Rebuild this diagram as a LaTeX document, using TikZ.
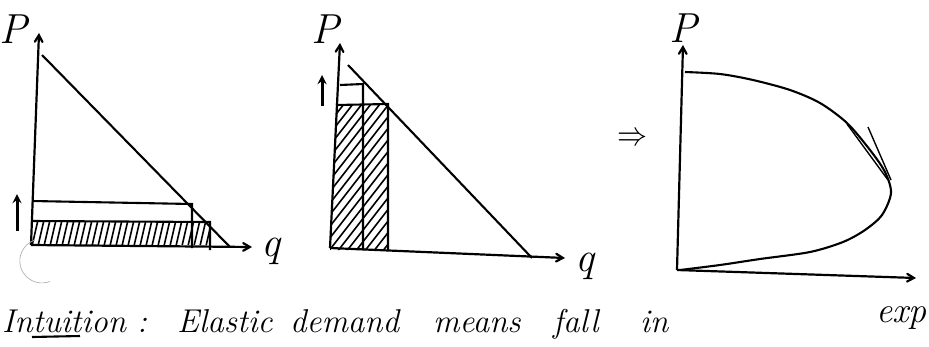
\documentclass[tikz,border=0pt]{standalone}
\usepackage{fontspec}
\usepackage{tikz}
\usetikzlibrary{arrows,positioning}

\begin{document}
\begin{tikzpicture}[x=1pt, y=-1pt, >=angle 60,
    axis/.style={line width=2.2pt, ->},
    sketch/.style={line width=2.1pt},
    hatch/.style={line width=1.6pt},
    lbl/.style={font=\fontsize{42}{42}\selectfont\itshape, inner sep=0pt},
    txt/.style={font=\fontsize{33}{33}\selectfont\itshape, inner sep=0pt}]
    \useasboundingbox (0,0) rectangle (929,346);

    % first panel
    \coordinate (o1) at (31,245);
    \coordinate (y1) at (39,33);
    \coordinate (x1) at (252,247);
    \draw[axis] (o1) -- (y1);
    \draw[axis] (o1) -- (x1);
    \draw[sketch] (42,55) -- (230,247);
    \begin{scope}
        \clip (32,222) rectangle (210,244);
        \foreach \x in {20,26,...,214}
            \draw[hatch] (\x,246) -- ++(6,-26);
    \end{scope}
    \draw[sketch] (32,201) -- (192,204) -- (192,248);
    \draw[sketch] (32,221) -- (210,222) -- (210,250);
    \draw[line width=3pt, -stealth] (17,231) -- (17,194);
    \draw[gray!60, line width=0.7pt] (35,240) arc[start angle=252, end angle=69, radius=22];
    \node[lbl, anchor=base] (p1) at (13,43) {P};
    \node[lbl, anchor=base] (q1) at (271,256) {q};

    % second panel
    \coordinate (o2) at (330,248);
    \coordinate (y2) at (340,43);
    \coordinate (x2) at (565,258);
    \draw[axis] (o2) -- (y2);
    \draw[axis] (o2) -- (x2);
    \draw[sketch] (348,65) -- (532,258);
    \begin{scope}
        \clip (337,105) -- (388,105) -- (388,250) -- (330,250) -- cycle;
        \foreach \x in {220,229,...,392}
            \draw[hatch] (\x,252) -- ++(115,-148);
    \end{scope}
    \draw[sketch] (340,85) -- (363,84) -- (363,250);
    \draw[sketch] (336,105) -- (388,104) -- (388,251);
    \draw[line width=3pt, -stealth] (322,106) -- (322,75);
    \node[lbl, anchor=base] (p2) at (325,43) {P};
    \node[lbl, anchor=base] (q2) at (585,271) {q};

    \node[inner sep=0pt] (implies) at (632,139) {\scalebox{3}[3.4]{$\Rightarrow$}};

    % third panel
    \coordinate (o3) at (677,270);
    \coordinate (y3) at (683,45);
    \coordinate (x3) at (916,278);
    \draw[axis] (o3) -- (y3);
    \draw[axis] (o3) -- (x3);
    \draw[sketch] plot[smooth] coordinates {(685,72) (720,74) (753,80) (790,90)
        (820,103) (847,123) (870,150) (885,172) (891,193) (882,215) (865,230)
        (843,242) (810,252) (760,259) (720,265) (680,270)};
    \draw[line width=1.4pt] (847,124) -- (888,180);
    \draw[line width=1.4pt] (868,127) -- (891,180);
    \node[lbl, anchor=base] (p3) at (683,42) {P};
    \node[lbl, font=\fontsize{36}{36}\selectfont\itshape, anchor=base east] (e3) at (927,322) {exp};

    % caption line
    \foreach \w/\x [count=\i] in {Intuition/2, :/137, Elastic/177, demand/290,
        means/433, fall/553, in/640}
        \node[txt, anchor=base west] (w\i) at (\x,332) {\w};
    \draw[sketch] (32,337) -- (80,336);
\end{tikzpicture}
\end{document}
